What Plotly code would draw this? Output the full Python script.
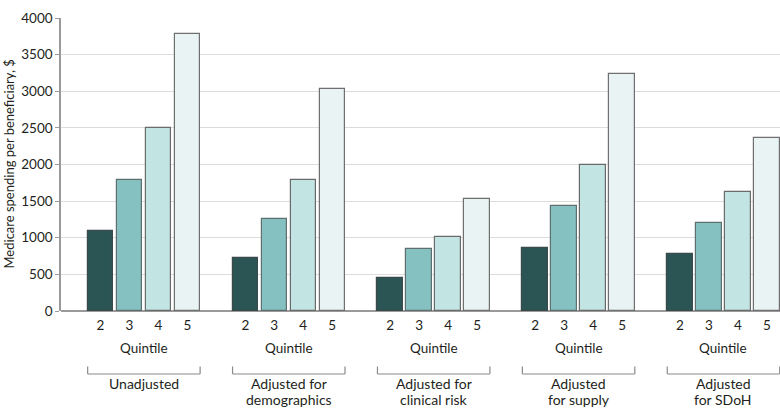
import plotly.graph_objects as go

groups = [["Unadjusted"], ["Adjusted for", "demographics"], ["Adjusted for", "clinical risk"],
          ["Adjusted", "for supply"], ["Adjusted", "for SDoH"]]
quintiles = ["2", "3", "4", "5"]
q2 = [1090, 730, 445, 862, 780]
q3 = [1784, 1250, 840, 1428, 1196]
q4 = [2503, 1784, 1005, 1989, 1624]
q5 = [3785, 3037, 1524, 3238, 2358]
series = [q2, q3, q4, q5]
colors = ["#2a5554", "#85c1c0", "#c2e5e4", "#e9f3f4"]
outlines = ["#3a4a4a", "#5f6f6f", "#6a6a6a", "#6f6f6f"]

FONT = "Lato"
TXT = "#231f20"

fig = go.Figure()
xs_all, xt_all = [], []
for j, (vals, c, oc) in enumerate(zip(series, colors, outlines)):
    xs = [g * 5 + j for g in range(len(groups))]
    xs_all += xs
    xt_all += [quintiles[j]] * len(groups)
    fig.add_trace(go.Bar(x=xs, y=vals, width=0.88, marker=dict(color=c, line=dict(color=oc, width=1.2)),
                         showlegend=False, hoverinfo="y"))

# plot pixel geometry
H_PLOT = 418 - 18 - 107
def py(pix_below_axis):
    return -pix_below_axis / H_PLOT

for g, lines in enumerate(groups):
    cx = g * 5 + 1.5
    fig.add_annotation(x=cx, y=py(36.5), xref="x", yref="paper", text="Quintile", showarrow=False,
                       font=dict(family=FONT, size=13.5, color=TXT), xanchor="center", yanchor="middle")
    x0 = g * 5 - 0.44
    x1 = g * 5 + 3 + 0.44
    ya, yb = py(55.5), py(63)
    lc = dict(color="#8a8a8a", width=1.2)
    fig.add_shape(type="line", xref="x", yref="paper", x0=x0, x1=x1, y0=yb, y1=yb, line=lc)
    fig.add_shape(type="line", xref="x", yref="paper", x0=x0, x1=x0, y0=ya, y1=yb, line=lc)
    fig.add_shape(type="line", xref="x", yref="paper", x0=x1, x1=x1, y0=ya, y1=yb, line=lc)
    for k, line in enumerate(lines):
        fig.add_annotation(x=cx, y=py(72.5 + 16.3 * k), xref="x", yref="paper", text=line, showarrow=False,
                           font=dict(family=FONT, size=14, color=TXT), xanchor="center", yanchor="middle")

fig.add_annotation(x=-53 / 719, y=0.5, xref="paper", yref="paper", text="Medicare spending per beneficiary, $",
                   textangle=-90, showarrow=False, font=dict(family=FONT, size=13, color=TXT),
                   xanchor="center", yanchor="middle")

fig.update_layout(
    width=780, height=418,
    margin=dict(l=61, r=0, t=18, b=107),
    plot_bgcolor="white", paper_bgcolor="white",
    bargap=0,
    font=dict(family=FONT, size=13, color=TXT),
    xaxis=dict(range=[-1.36, 23.45], tickvals=xs_all, ticktext=xt_all, showgrid=False, zeroline=False,
               showline=False, ticks="", ticklabelstandoff=4, tickfont=dict(size=13.5, color=TXT)),
    yaxis=dict(range=[0, 4000], tickvals=[0, 500, 1000, 1500, 2000, 2500, 3000, 3500, 4000],
               showgrid=True, gridcolor="#dcdcdc", gridwidth=1.2, zeroline=True, zerolinecolor="#9a9a9a",
               zerolinewidth=1.5, showline=True, linecolor="#9a9a9a", linewidth=1.5,
               ticks="outside", ticklen=4, tickcolor="#9a9a9a", tickwidth=1.2,
               tickfont=dict(size=13.5, color=TXT)),
)

fig.write_html("out.html", config={"displayModeBar": False},
               post_script="document.body.style.margin='0';document.body.style.overflow='hidden';")
